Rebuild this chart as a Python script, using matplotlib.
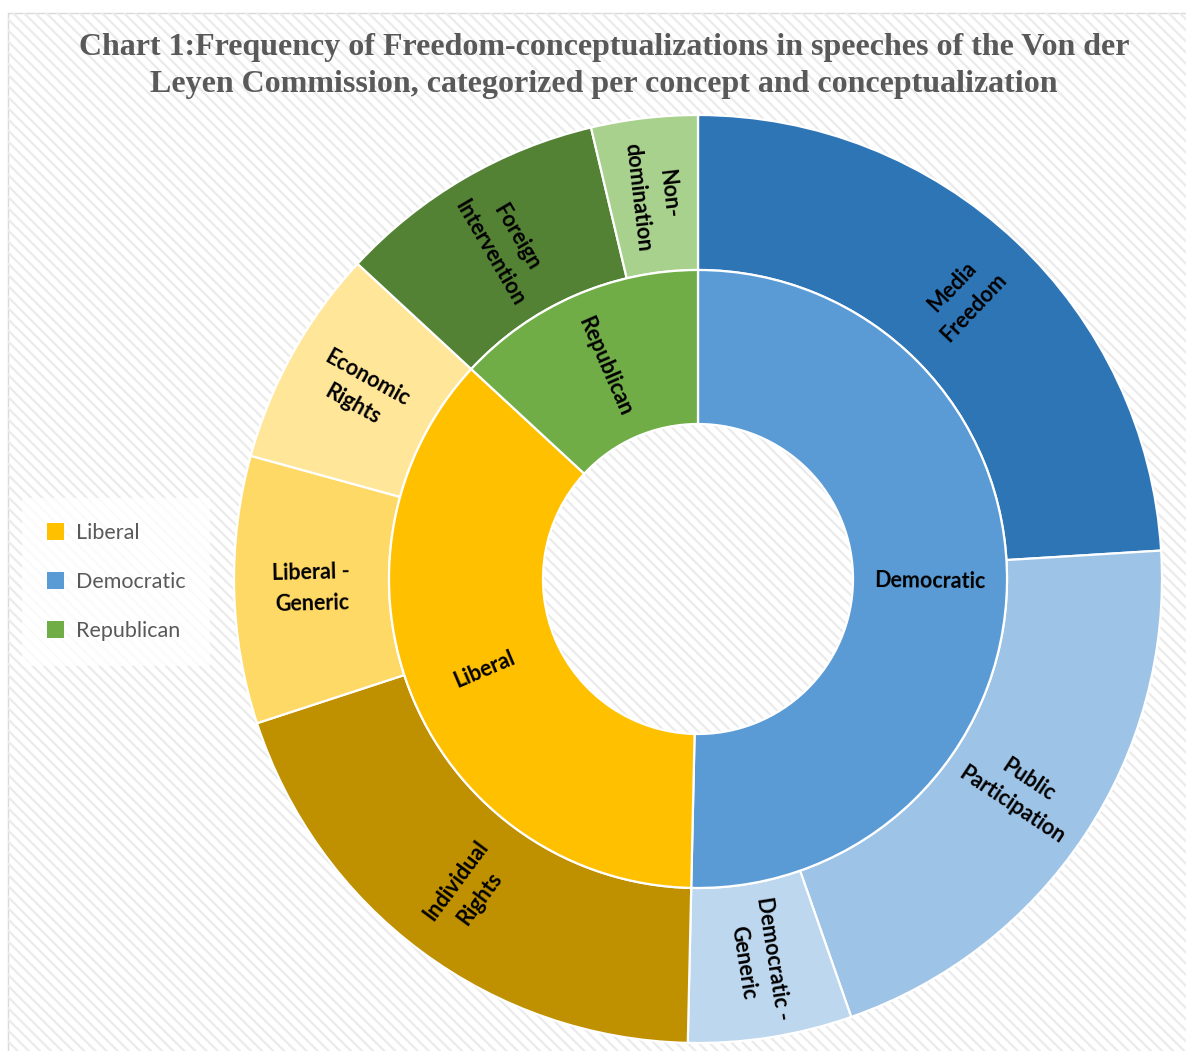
import matplotlib
matplotlib.use("Agg")
import numpy as np
import matplotlib.pyplot as plt
from matplotlib.patches import Rectangle, Patch

# ----------------------------------------------------------------------
# DATA (shares in %; clockwise from 12 o'clock)
# ----------------------------------------------------------------------
concepts       = ["Democratic", "Liberal", "Republican"]
concept_colors = ["#5B9BD5", "#FFC000", "#70AD47"]

sub_labels = ["Media\nFreedom", "Public\nParticipation", "Democratic -\nGeneric",
              "Individual\nRights", "Liberal -\nGeneric", "Economic\nRights",
              "Foreign\nIntervention", "Non-\ndomination"]
sub_parent = [0, 0, 0, 1, 1, 1, 2, 2]
sub_share  = [24.0, 20.6, 5.7, 19.6, 9.3, 7.6, 9.4, 3.7]
sub_colors = ["#2E75B6", "#9DC3E6", "#BDD7EE",
              "#BF9000", "#FFD966", "#FFE699",
              "#548235", "#A9D18E"]

concept_share = [sum(s for s, p in zip(sub_share, sub_parent) if p == i)
                 for i in range(len(concepts))]

legend_order = [1, 0, 2]   # Liberal, Democratic, Republican

TITLE = ("Chart 1:Frequency of Freedom-conceptualizations in speeches of the Von der\n"
         "Leyen Commission, categorized per concept and conceptualization")

# ----------------------------------------------------------------------
# LAYOUT (pixel units, y up)
# ----------------------------------------------------------------------
W, H = 1186, 1051
CX, CY = 698, H - 579
R_OUT, R_MID, R_IN = 464, 309, 155

plt.rcParams["hatch.linewidth"] = 1.6
LABEL_FONT = "Lato"

fig = plt.figure(figsize=(W / 100, H / 100), dpi=100)
ax = fig.add_axes([0, 0, 1, 1])

# chart area background: white, thin grey border, light diagonal stripes
ax.add_patch(Rectangle((8, -20), 1300, H - 13 + 20, facecolor="white",
                       edgecolor="#D9D9D9", lw=1.0, zorder=0))
ax.add_patch(Rectangle((8, -20), 1300, H - 13 + 20, facecolor="none",
                       edgecolor="#EBEBEB", lw=0, hatch="\\\\\\", zorder=0.5))

wp = dict(edgecolor="white", linewidth=1.6)
outer, _ = ax.pie(sub_share, radius=R_OUT, center=(CX, CY), startangle=90,
                  counterclock=False, colors=sub_colors,
                  wedgeprops=dict(width=R_OUT - R_MID, **wp))
inner, _ = ax.pie(concept_share, radius=R_MID, center=(CX, CY), startangle=90,
                  counterclock=False, colors=concept_colors,
                  wedgeprops=dict(width=R_MID - R_IN, **wp))


def radial_label(wedge, text, r):
    mid = (wedge.theta1 + wedge.theta2) / 2
    x = CX + r * np.cos(np.radians(mid))
    y = CY + r * np.sin(np.radians(mid))
    rot = (mid + 90) % 180 - 90
    ax.text(x, y, text, rotation=rot, rotation_mode="anchor",
            ha="center", va="center", multialignment="center",
            fontsize=15.5, fontweight="bold", family=LABEL_FONT,
            color="black", linespacing=1.55, zorder=5)


for w, lab in zip(outer, sub_labels):
    radial_label(w, lab, (R_OUT + R_MID) / 2)
for w, lab in zip(inner, concepts):
    radial_label(w, lab, (R_MID + R_IN) / 2)

ax.set_xlim(0, W)
ax.set_ylim(0, H)
ax.set_aspect("auto")
ax.axis("off")

fig.text(604 / W, 1 - 33 / H, TITLE, ha="center", va="top",
         fontsize=23, fontweight="bold", family="Liberation Serif",
         color="#595959", linespacing=1.35)

handles = [Patch(facecolor=concept_colors[i], edgecolor="none") for i in legend_order]
leg = ax.legend(handles, [concepts[i] for i in legend_order],
                loc="upper left", bbox_to_anchor=(22 / W, 1 - 498 / H),
                prop={"family": LABEL_FONT, "size": 15.5},
                frameon=True, facecolor="white", edgecolor="none", framealpha=0.8,
                handlelength=0.8, handleheight=0.8, handletextpad=0.55,
                labelspacing=1.35, borderpad=1.15, borderaxespad=0,
                fancybox=False)
for t in leg.get_texts():
    t.set_color("#595959")

fig.savefig("out.png", dpi=100)
